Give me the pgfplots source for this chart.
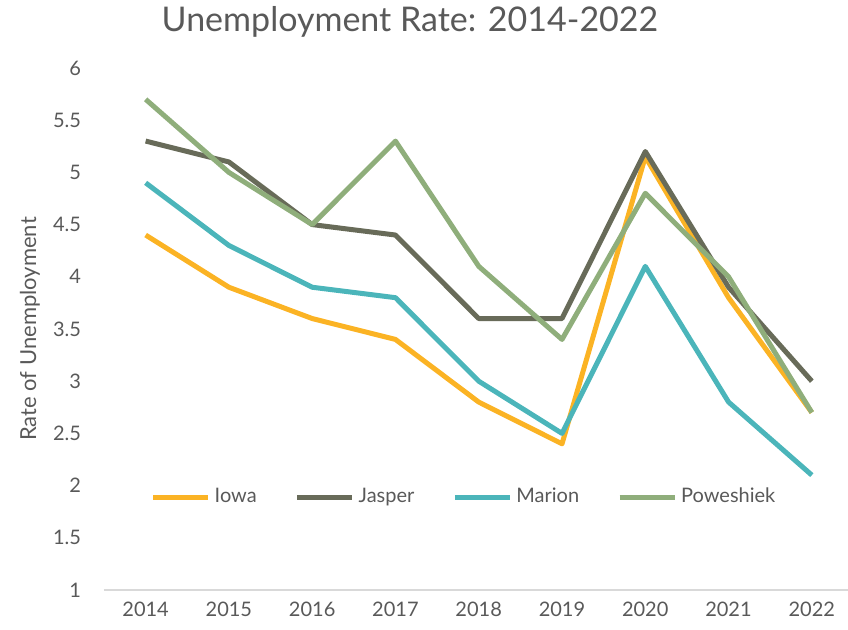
\documentclass[border=0pt]{standalone}
\usepackage{pgfplots}
\pgfplotsset{compat=1.18}
\usepackage{fontspec}
\setmainfont{Lato}
\definecolor{txt}{HTML}{595959}
\definecolor{iowa}{HTML}{FBB324}
\definecolor{jasper}{HTML}{686B59}
\definecolor{marion}{HTML}{4BB5BA}
\definecolor{powe}{HTML}{8FAE7B}
\begin{document}
\begin{tikzpicture}
\useasboundingbox (0pt,0pt) rectangle (424pt,315pt);
\node[text=txt, font=\fontsize{17}{20}\selectfont] at (205pt,304pt) {Unemployment Rate: 2014-2022};
\begin{axis}[
  at={(52pt,20pt)}, anchor=south west,
  scale only axis,
  width=374.75pt, height=261pt,
  xmin=2013.5, xmax=2022.5,
  ymin=1, ymax=6,
  xtick={2014,...,2022},
  ytick={1,1.5,2,2.5,3,3.5,4,4.5,5,5.5,6},
  major tick length=0pt,
  axis x line*=bottom, axis y line*=left,
  x axis line style={draw=black!15, line width=0.8pt, -},
  y axis line style={draw=none},
  tick label style={text=txt, font=\fontsize{10}{12}\selectfont},
  /pgf/number format/assume math mode=true,
  x tick label style={yshift=-2.5pt},
  xticklabel={\pgfmathprintnumber[1000 sep={}]{\tick}},
  yticklabel style={xshift=-8pt},
  ylabel={Rate of Unemployment},
  every axis y label/.style={at={(rel axis cs:0,0.5)}, xshift=-37pt, rotate=90, anchor=center,
    text=txt, font=\fontsize{11}{13}\selectfont},
  every axis plot/.append style={line width=2.5pt, line join=round, mark=none},
  legend columns=4,
  legend style={draw=none, fill=none, at={(axis description cs:0.4817,0.178)}, anchor=center,
    font=\fontsize{10}{12}\selectfont, text=txt,
    /tikz/every even column/.append style={column sep=17pt}},
  legend cell align=left,
  legend image code/.code={\draw[#1, line width=2.5pt] (0pt,0pt) -- (27.5pt,0pt);},
]
\addplot[iowa] coordinates {(2014,4.4) (2015,3.9) (2016,3.6) (2017,3.4) (2018,2.8) (2019,2.4) (2020,5.15) (2021,3.8) (2022,2.7)};
\addlegendentry{Iowa}
\addplot[jasper] coordinates {(2014,5.3) (2015,5.1) (2016,4.5) (2017,4.4) (2018,3.6) (2019,3.6) (2020,5.2) (2021,3.9) (2022,3.0)};
\addlegendentry{Jasper}
\addplot[marion] coordinates {(2014,4.9) (2015,4.3) (2016,3.9) (2017,3.8) (2018,3.0) (2019,2.5) (2020,4.1) (2021,2.8) (2022,2.1)};
\addlegendentry{Marion}
\addplot[powe] coordinates {(2014,5.7) (2015,5.0) (2016,4.5) (2017,5.3) (2018,4.1) (2019,3.4) (2020,4.8) (2021,4.0) (2022,2.7)};
\addlegendentry{Poweshiek}
\end{axis}
\end{tikzpicture}
\end{document}
